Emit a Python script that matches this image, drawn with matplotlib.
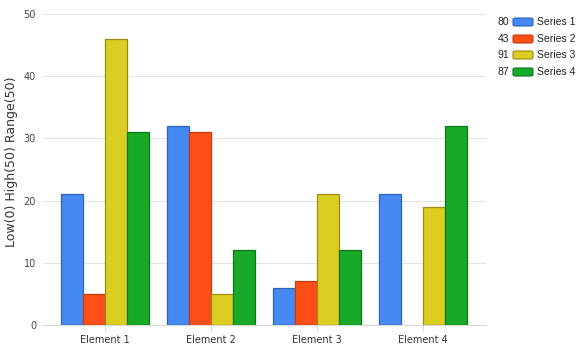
import matplotlib.pyplot as plt
import matplotlib.patches as mpatches
import numpy as np

categories = ["Element 1", "Element 2", "Element 3", "Element 4"]
series_names = ["Series 1", "Series 2", "Series 3", "Series 4"]
series_values = [
    [21, 32, 6, 21],
    [5, 31, 7, 0],
    [46, 5, 21, 19],
    [31, 12, 12, 32],
]
face_colors = ["#4689f2", "#ff4f17", "#dccd22", "#19a929"]
edge_colors = ["#2d62bd", "#c43b0f", "#9a8b16", "#0d7619"]

fig = plt.figure(figsize=(5.84, 3.51), dpi=100)
ax = fig.add_axes([43 / 584, 1 - 325 / 351, (486 - 43) / 584, (325 - 14) / 351])

x = np.arange(len(categories))
w = 0.2075
for i, vals in enumerate(series_values):
    offs = (i - 1.5) * w
    lw = [0.9 if v > 0 else 0 for v in vals]
    ax.bar(x + offs, vals, width=w, color=face_colors[i], edgecolor=edge_colors[i],
           linewidth=lw, zorder=3)

ax.set_xlim(-0.585, 3.594)
ax.set_ylim(0, 50)
ax.set_yticks([0, 10, 20, 30, 40, 50])
ax.set_xticks(x)
ax.set_xticklabels(categories)
ax.grid(axis="y", color="#e3e3e3", linewidth=0.8, zorder=0)
for s in ["top", "right", "left"]:
    ax.spines[s].set_visible(False)
ax.spines["bottom"].set_color("#d8d8d8")
ax.tick_params(axis="y", length=0, labelsize=7, labelcolor="#444444", pad=5)
ax.tick_params(axis="x", length=4, color="#d8d8d8", labelsize=7, labelcolor="#333333", pad=3)
ax.set_ylabel("Low(0) High(50) Range(50)", fontsize=9, color="#333333")
ax.yaxis.set_label_coords((18 - 43) / 443, 0.525)

# legend drawn by hand
rows_y = [22, 39, 55, 72]
for i, name in enumerate(series_names):
    yc = 1 - rows_y[i] / 351
    total = sum(series_values[i])
    fig.text(509 / 584, yc, str(total), ha="right", va="center", fontsize=7.5,
             family="Liberation Sans", color="#222222")
    rect = mpatches.FancyBboxPatch((513 / 584, yc - 4 / 351), 20 / 584, 8 / 351,
                                   boxstyle="round,pad=0,rounding_size=0.004",
                                   transform=fig.transFigure, facecolor=face_colors[i],
                                   edgecolor=edge_colors[i], linewidth=0.8)
    fig.patches.append(rect)
    fig.text(537 / 584, yc, name, ha="left", va="center", fontsize=7.5,
             family="Liberation Sans", color="#222222")

fig.savefig("out.png", dpi=100)
